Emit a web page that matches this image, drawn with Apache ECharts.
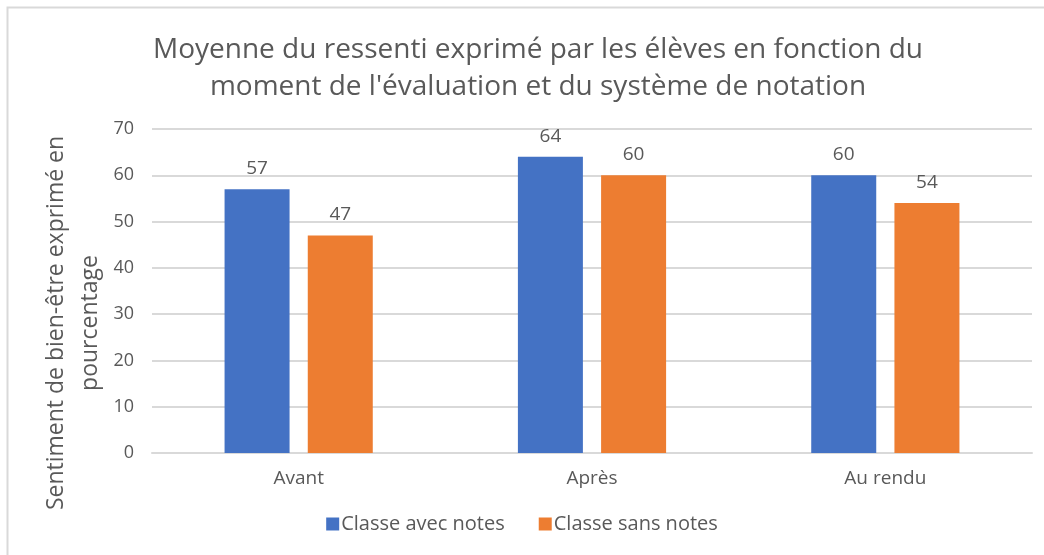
<!DOCTYPE html>
<html>
<head>
<meta charset="utf-8">
<script src="https://cdn.jsdelivr.net/npm/echarts@6/dist/echarts.min.js"></script>
<style>
  html, body { margin: 0; padding: 0; background: #fff; }
  #chart { width: 1044px; height: 555px; }
</style>
</head>
<body>
<div id="chart"></div>
<script>
const categories = ['Avant', 'Après', 'Au rendu'];
const avecNotes = [57, 64, 60];
const sansNotes = [47, 60, 54];
const seriesNames = ['Classe avec notes', 'Classe sans notes'];

const FONT = '"Open Sans", sans-serif';
const GREY = '#595959';

const chart = echarts.init(document.getElementById('chart'));

chart.setOption({
    animation: false,
    textStyle: { fontFamily: FONT },
    title: {
        text: "Moyenne du ressenti exprimé par les élèves en fonction du\nmoment de l'évaluation et du système de notation",
        left: 533,
        top: 27,
        textAlign: 'center',
        textStyle: { fontFamily: FONT, fontSize: 28, fontWeight: 'normal', color: GREY, lineHeight: 37 }
    },
    graphic: [
        {
            type: 'rect',
            shape: { x: 7.5, y: 7.5, width: 1100, height: 600 },
            style: { fill: 'none', stroke: '#d9d9d9', lineWidth: 2 },
            silent: true
        },
        {
            type: 'text',
            x: 73, y: 323,
            rotation: Math.PI / 2,
            style: {
                text: 'Sentiment de bien-être exprimé en\npourcentage',
                fontFamily: FONT, fontSize: 23, fill: GREY,
                align: 'center', verticalAlign: 'middle', lineHeight: 34
            }
        }
    ],
    legend: {
        data: seriesNames,
        bottom: 16,
        left: 'center',
        icon: 'rect',
        itemWidth: 13,
        itemHeight: 13,
        itemGap: 34,
        textStyle: { fontFamily: FONT, fontSize: 20, color: GREY, padding: [0, 0, 0, -3] }
    },
    grid: { left: 152, right: 12, top: 129, bottom: 102 },
    xAxis: {
        type: 'category',
        data: categories,
        axisLine: { lineStyle: { color: '#d9d9d9', width: 2 } },
        axisTick: { show: false },
        axisLabel: { color: GREY, fontSize: 19, margin: 16 }
    },
    yAxis: {
        type: 'value',
        min: 0, max: 70, interval: 10,
        axisLine: { show: false },
        axisTick: { show: false },
        axisLabel: { color: GREY, fontSize: 18, margin: 18 },
        splitLine: { lineStyle: { color: '#d9d9d9', width: 2 } }
    },
    series: [
        {
            name: seriesNames[0], type: 'bar', data: avecNotes,
            barWidth: 65, barGap: '28%',
            itemStyle: { color: '#4472C4' },
            label: { show: true, position: 'top', distance: 11, color: GREY, fontSize: 19 }
        },
        {
            name: seriesNames[1], type: 'bar', data: sansNotes,
            barWidth: 65,
            itemStyle: { color: '#ED7D31' },
            label: { show: true, position: 'top', distance: 11, color: GREY, fontSize: 19 }
        }
    ]
});
</script>
</body>
</html>
